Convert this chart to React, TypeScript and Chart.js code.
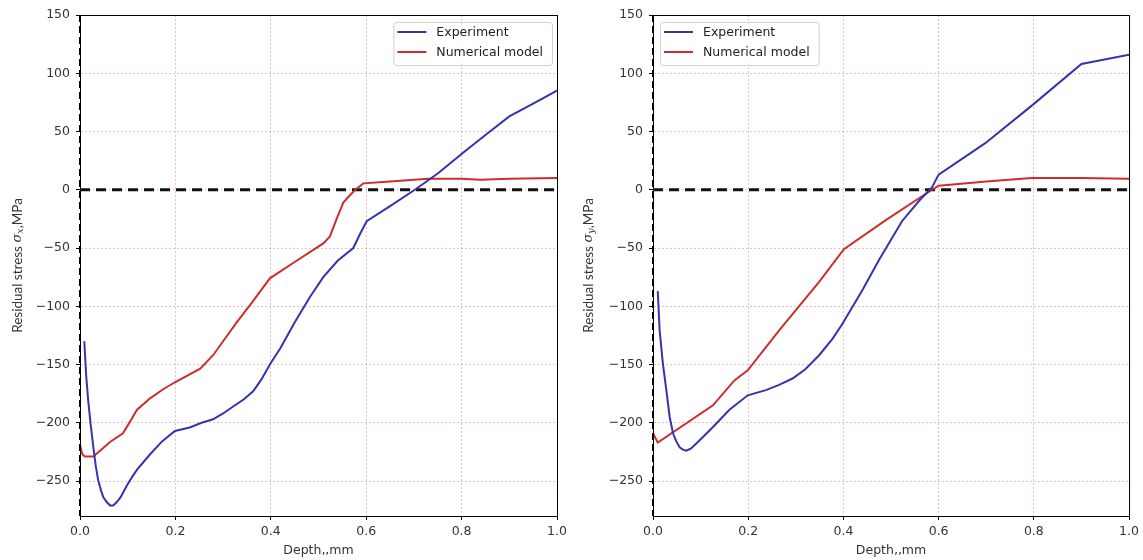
import React, { useEffect, useRef } from 'react';
import { Chart, registerables } from 'chart.js';
Chart.register(...registerables);

const xTicks = [0, 0.2, 0.4, 0.6, 0.8, 1.0];
const yTicks = [-250, -200, -150, -100, -50, 0, 50, 100, 150];
const seriesLabels = ['Experiment', 'Numerical model'];
const zeroLineX = [0, 1];
const zeroLineY = [0, 0];

// Left panel (sigma_x)
const leftExpX = [0.009, 0.013, 0.017, 0.022, 0.028, 0.033, 0.038, 0.044, 0.049, 0.056, 0.063, 0.07, 0.077, 0.085, 0.098, 0.11, 0.12, 0.147, 0.172, 0.199, 0.23, 0.255, 0.279, 0.3, 0.321, 0.343, 0.363, 0.38, 0.398, 0.42, 0.45, 0.482, 0.51, 0.54, 0.573, 0.587, 0.601, 0.65, 0.702, 0.75, 0.807, 0.85, 0.9, 0.95, 1.0];
const leftExpY = [-130, -160, -180, -200, -221, -237, -249, -258, -264, -268, -271, -271, -268, -264, -254, -246, -240, -227, -216, -207, -204, -200, -197, -192, -186, -180, -173, -163, -150, -136, -114, -92, -75, -61, -50, -38, -27, -14, 0, 14, 33, 47, 63, 74, 85];
const leftNumX = [0, 0.005, 0.01, 0.028, 0.045, 0.063, 0.09, 0.105, 0.119, 0.147, 0.175, 0.2, 0.227, 0.252, 0.279, 0.3, 0.33, 0.36, 0.398, 0.45, 0.51, 0.524, 0.538, 0.552, 0.563, 0.577, 0.594, 0.65, 0.73, 0.8, 0.839, 0.9, 1.0];
const leftNumY = [-219, -227, -229, -229, -223, -216.5, -209, -199, -189, -179, -171, -165, -159, -153.5, -142, -130, -113, -97, -76, -62, -46, -40, -25, -11, -6, 0, 5.5, 7, 9.4, 9.4, 8.6, 9.5, 10];

// Right panel (sigma_y)
const rightExpX = [0.01, 0.014, 0.021, 0.028, 0.035, 0.042, 0.049, 0.056, 0.063, 0.07, 0.08, 0.098, 0.126, 0.16, 0.199, 0.237, 0.265, 0.293, 0.32, 0.349, 0.377, 0.398, 0.44, 0.475, 0.523, 0.56, 0.586, 0.6, 0.698, 0.795, 0.9, 1.0];
const rightExpY = [-87, -121, -150, -172, -195, -209, -216, -221, -223, -224, -222, -215, -203.6, -189, -176.4, -172, -167.5, -162, -154, -142, -128, -115, -86, -60, -27, -9, 2, 13, 40, 72, 108, 116];
const rightNumX = [0, 0.01, 0.126, 0.171, 0.199, 0.265, 0.349, 0.401, 0.489, 0.586, 0.6, 0.7, 0.795, 0.9, 1.0];
const rightNumY = [-209, -217, -185, -163.6, -155, -120.7, -79, -51, -26, 0, 3.5, 7, 10, 10, 9.5];

const BLUE = '#3434ad';
const RED = '#cc2e2e';
const TICK_FONT = { family: 'DejaVu Sans', size: 12.5 };

function pts(xs: number[], ys: number[]) {
  return xs.map((x, i) => ({ x, y: ys[i] }));
}

interface PanelOpts {
  expX: number[]; expY: number[]; numX: number[]; numY: number[];
  sub: string; legendLeft: boolean; yAxisWidth: number; padRight: number; titleX: number;
}

function makeChart(canvas: HTMLCanvasElement, o: PanelOpts) {
  const decor = {
    id: 'decor',
    afterDraw(chart: any) {
      const ctx = chart.ctx as CanvasRenderingContext2D;
      const a = chart.chartArea;
      ctx.save();
      ctx.strokeStyle = '#000';
      ctx.lineWidth = 1;
      ctx.beginPath();
      ctx.moveTo(a.left, a.top + 0.5);
      ctx.lineTo(a.right, a.top + 0.5);
      ctx.moveTo(a.right + 0.5, a.top);
      ctx.lineTo(a.right + 0.5, a.bottom);
      ctx.stroke();
      ctx.lineWidth = 2;
      ctx.setLineDash([7, 4]);
      ctx.beginPath();
      ctx.moveTo(a.left, a.top);
      ctx.lineTo(a.left, a.bottom);
      ctx.stroke();
      ctx.setLineDash([]);

      ctx.fillStyle = '#333';
      ctx.font = '12.5px "DejaVu Sans"';
      ctx.textAlign = 'center';
      ctx.textBaseline = 'middle';
      ctx.fillText('Depth\u201a,mm', (a.left + a.right) / 2, 551);

      const cy = (a.top + a.bottom) / 2;
      ctx.save();
      ctx.translate(o.titleX, cy);
      ctx.rotate(-Math.PI / 2);
      ctx.textAlign = 'left';
      ctx.textBaseline = 'middle';
      const f1 = '13.5px Lato';
      const f2 = 'italic 13px "DejaVu Serif"';
      const f3 = 'italic 9.5px "DejaVu Serif"';
      const p1 = 'Residual stress ';
      const p2 = '\u03c3';
      const p3 = o.sub;
      const p4 = ',MPa';
      ctx.font = f1; const w1 = ctx.measureText(p1).width; const w4 = ctx.measureText(p4).width;
      ctx.font = f2; const w2 = ctx.measureText(p2).width;
      ctx.font = f3; const w3 = ctx.measureText(p3).width;
      let x = -(w1 + w2 + w3 + w4) / 2;
      ctx.font = f1; ctx.fillText(p1, x, 0); x += w1;
      ctx.font = f2; ctx.fillText(p2, x, 0); x += w2;
      ctx.font = f3; ctx.fillText(p3, x, 3); x += w3;
      ctx.font = f1; ctx.fillText(p4, x, 0);
      ctx.restore();

      ctx.font = '12.5px "DejaVu Sans"';
      const tw = Math.max(...seriesLabels.map((s) => ctx.measureText(s).width));
      const bw = 44 + tw + 8;
      const bh = 43;
      const bx = o.legendLeft ? a.left + 7 : a.right - 5 - bw;
      const by = a.top + 7;
      ctx.fillStyle = 'rgba(255,255,255,0.85)';
      ctx.strokeStyle = '#d0d0d0';
      ctx.lineWidth = 1;
      ctx.beginPath();
      (ctx as any).roundRect(bx + 0.5, by + 0.5, bw, bh, 3);
      ctx.fill();
      ctx.stroke();
      const colors = [BLUE, RED];
      seriesLabels.forEach((s, i) => {
        const ry = by + 10 + i * 20;
        ctx.strokeStyle = colors[i];
        ctx.lineWidth = 2;
        ctx.beginPath();
        ctx.moveTo(bx + 4, ry);
        ctx.lineTo(bx + 33, ry);
        ctx.stroke();
        ctx.fillStyle = '#222';
        ctx.textAlign = 'left';
        ctx.textBaseline = 'middle';
        ctx.fillText(s, bx + 43, ry + 1);
      });
      ctx.restore();
    },
  };

  return new Chart(canvas, {
    type: 'line',
    data: {
      datasets: [
        { label: seriesLabels[0], data: pts(o.expX, o.expY), borderColor: BLUE, borderWidth: 2, pointRadius: 0, tension: 0, fill: false },
        { label: seriesLabels[1], data: pts(o.numX, o.numY), borderColor: RED, borderWidth: 2, pointRadius: 0, tension: 0, fill: false },
        { label: 'zero', data: pts(zeroLineX, zeroLineY), borderColor: '#111', borderWidth: 2.8, borderDash: [10, 6], pointRadius: 0, tension: 0, fill: false },
      ],
    },
    options: {
      responsive: false,
      animation: false,
      devicePixelRatio: 1,
      layout: { padding: { top: 15, right: o.padRight, left: 0, bottom: 0 } },
      plugins: { legend: { display: false }, tooltip: { enabled: false }, title: { display: false } },
      scales: {
        x: {
          type: 'linear', min: 0, max: 1,
          afterBuildTicks: (s: any) => { s.ticks = xTicks.map((v) => ({ value: v })); },
          afterFit: (s: any) => { s.height = 44; },
          ticks: { color: '#333', font: TICK_FONT, padding: 4, maxRotation: 0, callback: (v: any) => Number(v).toFixed(1) },
          grid: { color: 'rgba(225,110,110,0.5)', lineWidth: 0.9, tickLength: 4, tickColor: '#000', tickWidth: 1 },
          border: { display: true, color: '#000', width: 1, dash: [2, 2] },
        },
        y: {
          type: 'linear', min: -280, max: 150,
          afterBuildTicks: (s: any) => { s.ticks = yTicks.map((v) => ({ value: v })); },
          afterFit: (s: any) => { s.width = o.yAxisWidth; },
          ticks: { color: '#333', font: TICK_FONT, padding: 6, callback: (v: any) => String(v).replace('-', '\u2212') },
          grid: { color: 'rgba(225,110,110,0.5)', lineWidth: 0.9, tickLength: 4, tickColor: '#000', tickWidth: 1 },
          border: { display: true, color: '#000', width: 1, dash: [2, 2] },
        },
      },
    },
    plugins: [decor],
  } as any);
}

export default function App() {
  const leftRef = useRef<HTMLCanvasElement>(null);
  const rightRef = useRef<HTMLCanvasElement>(null);
  useEffect(() => {
    const c1 = makeChart(leftRef.current!, { expX: leftExpX, expY: leftExpY, numX: leftNumX, numY: leftNumY, sub: 'x', legendLeft: false, yAxisWidth: 80, padRight: 18, titleX: 18 });
    const c2 = makeChart(rightRef.current!, { expX: rightExpX, expY: rightExpY, numX: rightNumX, numY: rightNumY, sub: 'y', legendLeft: true, yAxisWidth: 78, padRight: 12, titleX: 14 });
    return () => { c1.destroy(); c2.destroy(); };
  }, []);
  return (
    <div style={{ position: 'fixed', left: 0, top: 0, width: 1143, height: 560, background: '#fff' }}>
      <canvas ref={leftRef} width={575} height={560} style={{ position: 'absolute', left: 0, top: 0 }} />
      <canvas ref={rightRef} width={568} height={560} style={{ position: 'absolute', left: 575, top: 0 }} />
    </div>
  );
}
